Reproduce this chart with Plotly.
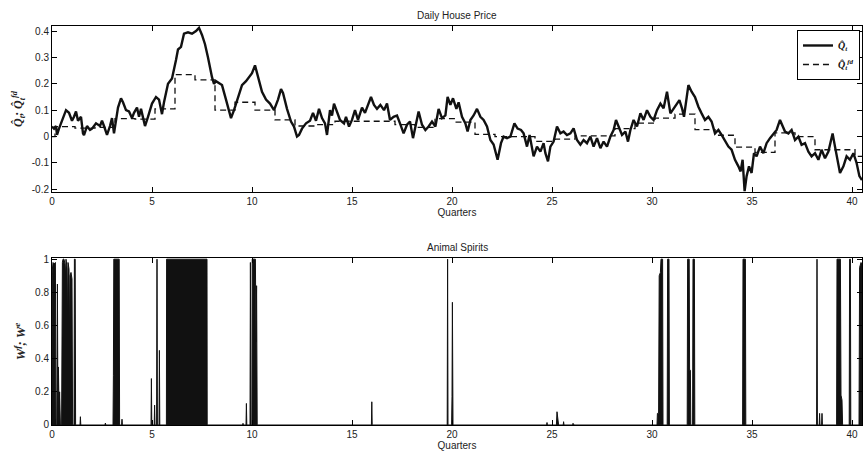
import plotly.graph_objects as go

# ---------------- Data: Daily House Price ----------------
price_q = [0.0, 0.1, 0.2, 0.25, 0.35, 0.5, 0.6, 0.7, 0.85, 1.0, 1.1, 1.2, 1.3, 1.45, 1.55, 1.6, 1.75, 1.9,
           2.0, 2.2, 2.4, 2.5, 2.6, 2.75, 2.9, 3.0, 3.1, 3.2, 3.3, 3.45, 3.55, 3.7, 3.85, 4.0, 4.1, 4.25,
           4.35, 4.45, 4.6, 4.65, 4.8, 4.9, 5.0, 5.2, 5.35, 5.5, 5.6, 5.8, 5.9, 6.0, 6.2, 6.3, 6.45, 6.6,
           6.8, 7.0, 7.2, 7.35, 7.5, 7.65, 7.8, 7.9, 8.0, 8.1, 8.2, 8.4, 8.5, 8.7, 8.85, 8.95, 9.1, 9.3,
           9.5, 9.7, 9.85, 10.0, 10.15, 10.3, 10.5, 10.7, 10.9, 11.1, 11.3, 11.45, 11.55, 11.75, 11.95,
           12.1, 12.25, 12.35, 12.5, 12.7, 12.9, 13.05, 13.2, 13.35, 13.5, 13.65, 13.75, 13.9, 14.0, 14.1,
           14.25, 14.4, 14.6, 14.7, 14.85, 15.0, 15.15, 15.3, 15.5, 15.65, 15.8, 15.95, 16.1, 16.25, 16.42,
           16.6, 16.75, 16.9, 17.08, 17.25, 17.4, 17.58, 17.75, 17.9, 18.05, 18.2, 18.33, 18.5, 18.67,
           18.83, 19.0, 19.17, 19.33, 19.5, 19.67, 19.78, 19.92, 20.05, 20.22, 20.33, 20.5, 20.67, 20.78,
           20.92, 21.08, 21.25, 21.42, 21.58, 21.75, 21.92, 22.08, 22.28, 22.45, 22.58, 22.75, 22.92,
           23.12, 23.28, 23.45, 23.58, 23.75, 23.88, 24.08, 24.25, 24.42, 24.58, 24.67, 24.8, 24.92,
           25.08, 25.25, 25.42, 25.58, 25.75, 25.92, 26.08, 26.25, 26.42, 26.58, 26.75, 26.92, 27.08,
           27.25, 27.42, 27.58, 27.75, 27.92, 28.08, 28.2, 28.33, 28.5, 28.67, 28.8, 28.92, 29.08, 29.25,
           29.42, 29.58, 29.75, 29.92, 30.08, 30.25, 30.42, 30.58, 30.75, 30.92, 31.08, 31.25, 31.37,
           31.5, 31.6, 31.82, 31.98, 32.15, 32.32, 32.48, 32.65, 32.82, 32.98, 33.15, 33.32, 33.48, 33.65,
           33.82, 33.98, 34.15, 34.32, 34.43, 34.53, 34.63, 34.73, 34.85, 34.98, 35.1, 35.23, 35.4, 35.57,
           35.73, 35.9, 36.07, 36.23, 36.4, 36.52, 36.65, 36.82, 36.98, 37.15, 37.32, 37.48, 37.65, 37.82,
           37.98, 38.15, 38.32, 38.48, 38.65, 38.82, 38.93, 39.03, 39.15, 39.27, 39.4, 39.57, 39.73, 39.9,
           40.07, 40.23, 40.37, 40.5]
price_val = [0.038, 0.03, 0.04, 0.006, 0.03, 0.06, 0.08, 0.10, 0.09, 0.06, 0.075, 0.095, 0.06, 0.075, 0.012,
             0.005, 0.04, 0.025, 0.03, 0.05, 0.04, 0.06, 0.04, 0.006, 0.04, 0.07, 0.012, 0.06, 0.11, 0.145,
             0.13, 0.10, 0.095, 0.07, 0.09, 0.11, 0.075, 0.105, 0.06, 0.04, 0.075, 0.105, 0.125, 0.15, 0.14,
             0.085, 0.13, 0.2, 0.21, 0.22, 0.29, 0.33, 0.34, 0.39, 0.395, 0.39, 0.40, 0.412, 0.385, 0.35,
             0.30, 0.26, 0.225, 0.20, 0.21, 0.2, 0.195, 0.14, 0.10, 0.07, 0.10, 0.15, 0.195, 0.21, 0.225,
             0.24, 0.27, 0.225, 0.17, 0.14, 0.125, 0.10, 0.14, 0.18, 0.165, 0.105, 0.057, 0.038, 0.0, 0.006,
             0.03, 0.05, 0.06, 0.09, 0.06, 0.105, 0.07, 0.05, 0.006, 0.10, 0.08, 0.125, 0.09, 0.063, 0.05,
             0.075, 0.038, 0.063, 0.10, 0.063, 0.11, 0.09, 0.12, 0.15, 0.12, 0.105, 0.12, 0.10, 0.125,
             0.063, 0.075, 0.08, 0.05, 0.012, 0.045, 0.057, -0.006, 0.05, 0.095, 0.045, 0.025, 0.038, 0.057,
             0.038, 0.105, 0.07, 0.08, 0.15, 0.12, 0.145, 0.105, 0.13, 0.075, 0.05, 0.019, 0.063, 0.08,
             0.105, 0.075, 0.063, 0.038, -0.013, -0.03, -0.088, -0.025, 0.0, -0.006, 0.0, 0.05, 0.03, 0.025,
             0.012, -0.038, 0.006, -0.075, -0.038, -0.057, -0.025, -0.063, -0.094, -0.038, -0.019, 0.038,
             0.012, 0.019, 0.006, 0.012, 0.031, -0.013, -0.031, -0.013, -0.025, 0.0, -0.038, -0.006, -0.044,
             -0.019, -0.038, 0.0, 0.025, 0.063, 0.038, 0.006, 0.019, -0.019, 0.025, 0.063, 0.038, 0.088,
             0.063, 0.10, 0.075, 0.063, 0.10, 0.125, 0.107, 0.17, 0.088, 0.107, 0.125, 0.138, 0.107, 0.075,
             0.195, 0.17, 0.15, 0.113, 0.088, 0.063, 0.075, 0.057, 0.012, 0.025, 0.006, -0.019, -0.038,
             -0.05, -0.088, -0.113, -0.132, -0.088, -0.207, -0.15, -0.113, -0.138, -0.063, -0.075, -0.038,
             -0.063, -0.025, -0.006, 0.012, 0.025, 0.063, 0.044, 0.019, 0.012, 0.025, -0.013, 0.0, -0.031,
             -0.025, -0.057, -0.075, -0.063, -0.088, -0.05, -0.082, -0.057, -0.025, 0.012, -0.038, -0.088,
             -0.138, -0.113, -0.075, -0.088, -0.063, -0.1, -0.15, -0.165]

# Fundamental (quarterly step) series: start of each step and its level
fund_q = [0.0, 0.15, 1.15, 2.15, 3.15, 4.15, 5.15, 6.15, 7.15, 8.15, 9.15, 10.15, 11.15, 12.15, 13.15,
          14.15, 15.15, 16.15, 17.15, 18.15, 19.15, 20.15, 21.15, 22.15, 23.15, 24.15, 25.15, 26.15,
          27.15, 28.15, 29.15, 30.15, 31.15, 32.15, 33.15, 34.15, 35.15, 36.15, 37.15, 38.15, 39.15,
          40.15, 40.5]
fund_val = [0.0, 0.038, 0.032, 0.035, 0.068, 0.066, 0.105, 0.235, 0.215, 0.100, 0.130, 0.100, 0.063,
            0.040, 0.045, 0.058, 0.058, 0.058, 0.045, 0.035, 0.068, 0.055, 0.008, 0.0, 0.0, -0.018,
            -0.010, 0.003, 0.003, 0.030, 0.051, 0.070, 0.085, 0.026, 0.005, -0.040, -0.060, 0.014, 0.0,
            -0.050, -0.050, -0.075, -0.075]

# ---------------- Data: Animal Spirits weights ----------------
spirit_q = [0.0, 0.005, 0.05, 0.1, 0.17, 0.2, 0.24, 0.27, 0.3, 0.32, 0.36, 0.38, 0.42, 0.48, 0.52, 0.55,
            0.6, 0.65, 0.68, 0.7, 0.75, 0.78, 0.8, 0.85, 0.88, 0.9, 0.95, 1.0, 1.03, 1.1, 1.12, 1.16, 1.18,
            1.4, 1.42, 1.44, 2.65, 2.67, 2.69, 3.05, 3.07, 3.09, 3.36, 3.38, 3.48, 3.5, 3.52,
            4.95, 4.97, 4.99, 5.11, 5.13, 5.15, 5.23, 5.25, 5.27, 5.35, 5.37, 5.39,
            5.72, 5.73, 7.75, 7.76, 9.53, 9.55, 9.57, 9.7, 9.72, 9.74,
            9.9, 9.92, 9.95, 10.0, 10.01, 10.17, 10.2, 10.23, 10.26,
            15.97, 15.99, 16.01, 19.76, 19.78, 19.8, 19.98, 20.0, 20.02, 20.05,
            24.73, 24.75, 24.77, 25.22, 25.25, 25.3, 25.33, 25.56, 25.58, 25.6, 26.03, 26.05, 26.1,
            30.25, 30.27, 30.33, 30.36, 30.42, 30.45, 30.53, 30.55, 30.76, 30.78, 30.85, 30.87,
            31.76, 31.78, 31.86, 31.88, 31.92, 31.94, 32.03, 32.05, 32.12, 32.14,
            34.53, 34.55, 34.67, 34.69, 38.23, 38.25, 38.27, 38.36, 38.38, 38.4, 38.48, 38.5, 38.52,
            39.23, 39.25, 39.42, 39.45, 39.5, 39.53, 39.86, 39.88, 39.92, 39.94,
            40.35, 40.38, 40.42, 40.45, 40.5]
spirit_w = [0.0, 0.92, 0.98, 0.97, 0.98, 0.0, 0.0, 0.85, 0.0, 0.35, 0.05, 0.2, 0.0, 0.0, 0.98, 1.0,
            1.0, 0.97, 0.9, 1.0, 0.95, 0.6, 0.98, 0.94, 0.5, 0.9, 0.92, 0.88, 0.0, 0.0, 1.0, 1.0, 0.0,
            0.0, 0.05, 0.0, 0.0, 0.012, 0.0, 0.0, 0.3, 1.0, 1.0, 0.0, 0.0, 0.035, 0.0,
            0.0, 0.28, 0.0, 0.0, 0.12, 0.0, 0.0, 1.0, 0.0, 0.0, 0.45, 0.0,
            0.0, 1.0, 1.0, 0.0, 0.0, 0.01, 0.0, 0.0, 0.13, 0.0,
            0.0, 0.98, 0.0, 0.0, 1.0, 1.0, 0.5, 0.84, 0.0,
            0.0, 0.14, 0.0, 0.0, 1.0, 0.0, 0.0, 0.17, 0.74, 0.0,
            0.0, 0.015, 0.0, 0.0, 0.08, 0.04, 0.0, 0.0, 0.02, 0.0, 0.0, 0.01, 0.0,
            0.0, 0.07, 0.07, 0.9, 0.92, 1.0, 1.0, 0.0, 0.0, 1.0, 1.0, 0.0,
            0.0, 1.0, 1.0, 0.33, 0.33, 0.0, 0.0, 1.0, 1.0, 0.0,
            0.0, 1.0, 1.0, 0.0, 0.0, 1.0, 0.0, 0.0, 0.07, 0.0, 0.0, 0.07, 0.0,
            0.0, 1.0, 1.0, 0.18, 0.15, 0.0, 0.0, 1.0, 1.0, 0.0,
            0.0, 0.95, 0.97, 0.98, 0.97]

x_ticks = [0, 5, 10, 15, 20, 25, 30, 35, 40]
top_y_ticks = [-0.2, -0.1, 0, 0.1, 0.2, 0.3, 0.4]
top_y_labels = ["-0.2", "-0.1", "0", "0.1", "0.2", "0.3", "0.4"]
bot_y_ticks = [0, 0.2, 0.4, 0.6, 0.8, 1]
bot_y_labels = ["0", "0.2", "0.4", "0.6", "0.8", "1"]

FONT = "Liberation Sans, Arial, sans-serif"

fig = go.Figure()
fig.add_trace(go.Scatter(x=price_q, y=price_val, mode="lines",
                         line=dict(color="#111111", width=2.4),
                         name="<b><i>Q̂<sub>t</sub></i></b>", xaxis="x", yaxis="y"))
fig.add_trace(go.Scatter(x=fund_q, y=fund_val, mode="lines", line_shape="hv",
                         line=dict(color="#111111", width=1.3, dash="6px,4px"),
                         name="<b><i>Q̂<sub>t</sub><sup>fd</sup></i></b>", xaxis="x", yaxis="y"))
fig.add_trace(go.Scatter(x=spirit_q, y=spirit_w, mode="lines", fill="tozeroy",
                         fillcolor="#111111", line=dict(color="#111111", width=1),
                         showlegend=False, xaxis="x2", yaxis="y2"))

axis_common = dict(showline=True, linecolor="black", linewidth=1, mirror="ticks",
                   ticks="inside", ticklen=5, tickcolor="black", showgrid=False, zeroline=False,
                   tickfont=dict(family=FONT, size=10, color="#222"))

fig.update_layout(
    width=863, height=454,
    margin=dict(l=52, r=1, t=26, b=29),
    plot_bgcolor="white", paper_bgcolor="white",
    xaxis=dict(domain=[0, 1], range=[0, 40.5], tickvals=x_ticks, anchor="y",
               title=dict(text="Quarters", font=dict(family=FONT, size=10, color="#222"), standoff=2),
               **axis_common),
    yaxis=dict(domain=[0.584, 1], range=[-0.21, 0.419], tickvals=top_y_ticks, ticktext=top_y_labels,
               anchor="x",
               title=dict(text="<b><i>Q̂<sub>t</sub>; Q̂<sub>t</sub><sup>fd</sup></i></b>",
                          font=dict(family="Liberation Serif, serif", size=12, color="#222"), standoff=6),
               **axis_common),
    xaxis2=dict(domain=[0, 1], range=[0, 40.5], tickvals=x_ticks, anchor="y2",
                title=dict(text="Quarters", font=dict(family=FONT, size=10, color="#222"), standoff=2),
                **axis_common),
    yaxis2=dict(domain=[0, 0.4185], range=[0, 1.007], tickvals=bot_y_ticks, ticktext=bot_y_labels,
                anchor="x2",
                title=dict(text="<b><i>W<sup>f</sup>; W<sup>e</sup></i></b>",
                           font=dict(family="Liberation Serif, serif", size=13, color="#222"), standoff=6),
                **axis_common),
    legend=dict(x=0.9975, y=0.99, xanchor="right", yanchor="top", bgcolor="white",
                bordercolor="black", borderwidth=1,
                font=dict(family="Liberation Serif, serif", size=10, color="#111"),
                tracegroupgap=0, itemwidth=30),
    annotations=[
        dict(text="Daily House Price", x=0.5, y=1, xref="paper", yref="paper", yanchor="bottom",
             showarrow=False, yshift=3, font=dict(family=FONT, size=10, color="#222")),
        dict(text="Animal Spirits", x=0.5, y=0.4185, xref="paper", yref="paper", yanchor="bottom",
             showarrow=False, yshift=3, font=dict(family=FONT, size=10, color="#222")),
    ],
)

fig.write_html("out.html")
